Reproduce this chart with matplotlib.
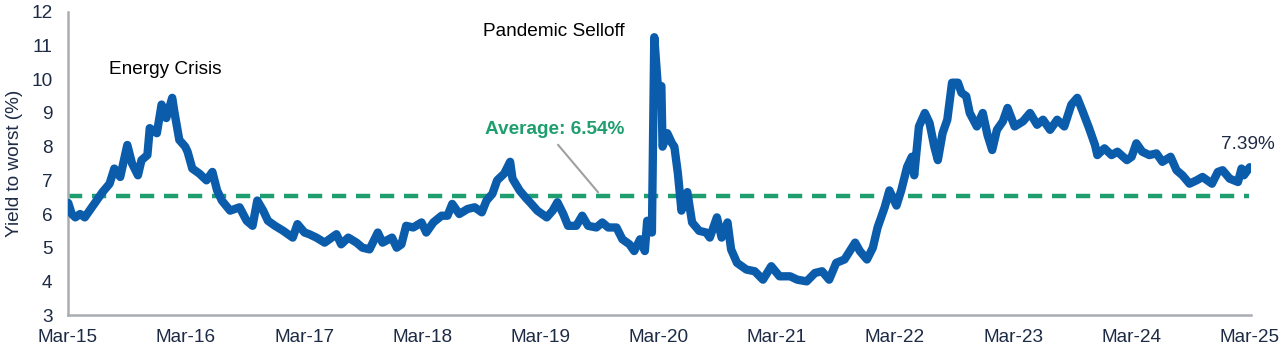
import matplotlib
matplotlib.use("Agg")
import matplotlib.pyplot as plt

plt.rcParams['font.family'] = ['Liberation Sans', 'DejaVu Sans']

# decimal-year dates and yield-to-worst values (%)
dates = [
    2015.17, 2015.20, 2015.23, 2015.27, 2015.31, 2015.35, 2015.41, 2015.46, 2015.52, 2015.56,
    2015.61, 2015.67, 2015.71, 2015.76, 2015.79, 2015.84, 2015.86, 2015.92, 2015.96, 2016.00,
    2016.05, 2016.07, 2016.11, 2016.16, 2016.18, 2016.22, 2016.28, 2016.34, 2016.39, 2016.43,
    2016.47, 2016.54, 2016.62, 2016.68, 2016.73, 2016.77, 2016.82, 2016.86, 2016.92, 2016.99,
    2017.07, 2017.11, 2017.17, 2017.21, 2017.27, 2017.34, 2017.38, 2017.44, 2017.48, 2017.54,
    2017.61, 2017.66, 2017.72, 2017.79, 2017.83, 2017.91, 2017.95, 2017.99, 2018.03, 2018.09,
    2018.16, 2018.20, 2018.26, 2018.33, 2018.38, 2018.42, 2018.48, 2018.55, 2018.61, 2018.67,
    2018.71, 2018.76, 2018.80, 2018.86, 2018.91, 2018.93, 2018.99, 2019.05, 2019.09, 2019.14,
    2019.22, 2019.27, 2019.31, 2019.36, 2019.40, 2019.47, 2019.52, 2019.57, 2019.64, 2019.69,
    2019.74, 2019.81, 2019.86, 2019.92, 2019.96, 2020.01, 2020.05, 2020.07, 2020.11, 2020.13,
    2020.16, 2020.19, 2020.20, 2020.24, 2020.28, 2020.30, 2020.33, 2020.36, 2020.41, 2020.45,
    2020.51, 2020.57, 2020.60, 2020.66, 2020.70, 2020.75, 2020.78, 2020.83, 2020.91, 2020.98,
    2021.05, 2021.12, 2021.19, 2021.28, 2021.34, 2021.42, 2021.49, 2021.55, 2021.61, 2021.67,
    2021.74, 2021.83, 2021.87, 2021.93, 2021.98, 2022.02, 2022.08, 2022.12, 2022.18, 2022.22,
    2022.27, 2022.31, 2022.33, 2022.37, 2022.42, 2022.46, 2022.50, 2022.53, 2022.57, 2022.61,
    2022.65, 2022.70, 2022.73, 2022.77, 2022.80, 2022.86, 2022.91, 2022.95, 2022.99, 2023.03,
    2023.08, 2023.12, 2023.18, 2023.25, 2023.31, 2023.37, 2023.42, 2023.48, 2023.54, 2023.60,
    2023.66, 2023.71, 2023.75, 2023.81, 2023.86, 2023.88, 2023.94, 2024.00, 2024.05, 2024.13,
    2024.17, 2024.21, 2024.26, 2024.32, 2024.38, 2024.43, 2024.50, 2024.55, 2024.60, 2024.66,
    2024.72, 2024.77, 2024.81, 2024.85, 2024.90, 2024.94, 2025.00, 2025.07, 2025.10, 2025.12,
    2025.17,
]
ytw = [
    6.33, 6.00, 5.90, 6.00, 5.90, 6.10, 6.40, 6.65, 6.90, 7.35,
    7.10, 8.05, 7.50, 7.15, 7.60, 7.75, 8.55, 8.40, 9.25, 8.85,
    9.45, 9.00, 8.20, 8.00, 7.85, 7.35, 7.20, 7.00, 7.25, 6.70,
    6.40, 6.10, 6.20, 5.80, 5.65, 6.40, 6.10, 5.80, 5.65, 5.50,
    5.30, 5.70, 5.45, 5.40, 5.30, 5.15, 5.25, 5.40, 5.10, 5.30,
    5.15, 5.00, 4.95, 5.45, 5.15, 5.30, 5.00, 5.10, 5.65, 5.60,
    5.75, 5.45, 5.75, 5.95, 5.95, 6.30, 6.00, 6.15, 6.20, 6.05,
    6.40, 6.60, 7.00, 7.20, 7.55, 7.05, 6.70, 6.45, 6.30, 6.10,
    5.90, 6.10, 6.35, 6.00, 5.65, 5.65, 5.95, 5.65, 5.60, 5.75,
    5.60, 5.60, 5.25, 5.10, 4.90, 5.25, 4.90, 5.80, 5.45, 11.25,
    9.80, 9.80, 8.00, 8.40, 8.10, 8.00, 7.20, 6.10, 6.65, 5.75,
    5.50, 5.45, 5.30, 5.90, 5.30, 5.75, 4.95, 4.55, 4.35, 4.30,
    4.05, 4.45, 4.15, 4.15, 4.05, 4.00, 4.25, 4.30, 4.05, 4.55,
    4.65, 5.15, 4.90, 4.65, 5.00, 5.60, 6.20, 6.70, 6.25, 6.70,
    7.40, 7.70, 7.15, 8.60, 9.00, 8.70, 8.00, 7.60, 8.40, 8.80,
    9.90, 9.90, 9.60, 9.50, 9.00, 8.60, 9.00, 8.35, 7.90, 8.50,
    8.75, 9.15, 8.60, 8.75, 9.00, 8.65, 8.80, 8.50, 8.80, 8.60,
    9.25, 9.45, 9.10, 8.55, 8.05, 7.75, 7.95, 7.75, 7.85, 7.60,
    7.70, 8.10, 7.85, 7.75, 7.80, 7.55, 7.70, 7.30, 7.15, 6.90,
    7.00, 7.10, 7.00, 6.90, 7.25, 7.30, 7.05, 6.95, 7.35, 7.15,
    7.39,
]
average = 6.54
tick_years = [2015, 2016, 2017, 2018, 2019, 2020, 2021, 2022, 2023, 2024, 2025]
tick_labels = ["Mar-%02d" % (y % 100) for y in tick_years]
y_ticks = list(range(3, 13))

BLUE = "#0B5CAB"
GREEN = "#1F9E6F"
TEXT = "#1E2B45"
SPINE = "#A9ADB2"
FS = 13.7

fig = plt.figure(figsize=(12.8, 3.52), dpi=100)
ax = fig.add_axes([0.053, 0.105, 0.924, 0.861])

x0 = tick_years[0] + 2 / 12
x1 = tick_years[-1] + 2 / 12
ax.plot([x0, x1], [average, average], color=GREEN, lw=3.2, ls=(0, (3.2, 2.2)),
        dash_capstyle='butt', zorder=2)
ax.plot(dates, ytw, color=BLUE, lw=6.0, solid_joinstyle='round',
        solid_capstyle='round', zorder=3)

ax.set_xlim(x0, x1 + 0.01)
ax.set_ylim(3, 12)
ax.set_xticks([y + 2 / 12 for y in tick_years])
ax.set_xticklabels(tick_labels)
ax.set_yticks(y_ticks)
ax.tick_params(axis='both', length=0, labelsize=FS, colors=TEXT)
ax.tick_params(axis='x', pad=10)
ax.tick_params(axis='y', pad=11)
ax.set_ylabel("Yield to worst (%)", fontsize=FS, color=TEXT, labelpad=6)

for s in ['top', 'right']:
    ax.spines[s].set_visible(False)
for s in ['left', 'bottom']:
    ax.spines[s].set_color(SPINE)
    ax.spines[s].set_linewidth(1.8)

ax.text(2015.99, 10.28, "Energy Crisis", fontsize=FS, color='black',
        ha='center', va='center')
ax.text(2019.28, 11.43, "Pandemic Selloff", fontsize=FS, color='black',
        ha='center', va='center')
ax.text(2019.29, 8.52, "Average: 6.54%", fontsize=FS, color=GREEN,
        fontweight='bold', ha='center', va='center')
ax.annotate("", xy=(2019.67, 6.58), xytext=(2019.30, 8.12),
            arrowprops=dict(arrowstyle='-', color='#A0A0A0', lw=1.5))
ax.text(2025.15, 8.05, "7.39%", fontsize=FS, color=TEXT,
        ha='center', va='center', clip_on=False)

fig.savefig("out.png", dpi=100)
